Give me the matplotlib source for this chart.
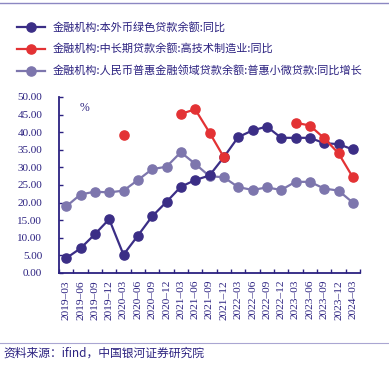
import numpy as np
import matplotlib
matplotlib.use("Agg")
import matplotlib.pyplot as plt
from matplotlib.lines import Line2D

plt.rcParams['font.family'] = ['Liberation Serif', 'Noto Sans CJK SC']

dates = ['2019-03', '2019-06', '2019-09', '2019-12', '2020-03', '2020-06', '2020-09',
         '2020-12', '2021-03', '2021-06', '2021-09', '2021-12', '2022-03', '2022-06',
         '2022-09', '2022-12', '2023-03', '2023-06', '2023-09', '2023-12', '2024-03']

green_loans = [4.2, 7.0, 11.0, 15.3, 5.2, 10.6, 16.1, 20.2, 24.5, 26.4, 27.7, 32.9,
               38.6, 40.5, 41.6, 38.4, 38.4, 38.4, 36.9, 36.6, 35.1]
hitech_loans = [np.nan, np.nan, np.nan, np.nan, 39.3, np.nan, np.nan, np.nan, 45.2, 46.5,
                39.9, 32.9, np.nan, np.nan, np.nan, np.nan, 42.7, 41.9, 38.3, 34.0, 27.2]
micro_loans = [18.9, 22.3, 23.1, 22.9, 23.4, 26.4, 29.5, 30.2, 34.3, 31.0, 27.5, 27.2,
               24.4, 23.6, 24.3, 23.6, 25.9, 25.9, 24.0, 23.4, 20.0]

labels = ['金融机构:本外币绿色贷款余额:同比',
          '金融机构:中长期贷款余额:高技术制造业:同比',
          '金融机构:人民币普惠金融领域贷款余额:普惠小微贷款:同比增长']
colors = ['#3b2e86', '#e33234', '#7d76ad']
navy = '#2b2180'
cjk = ['Noto Sans CJK SC', 'DejaVu Sans']

fig = plt.figure(figsize=(3.89, 3.74), dpi=100)
ax = fig.add_axes([59 / 389, 1 - 273 / 374, 301 / 389, 176 / 374])

x = np.arange(len(dates))
ax.plot(x, micro_loans, color=colors[2], lw=1.6, marker='o', ms=6.6, zorder=2)
ax.plot(x, green_loans, color=colors[0], lw=1.6, marker='o', ms=6.6, zorder=3)
ax.plot(x, hitech_loans, color=colors[1], lw=1.6, marker='o', ms=6.6, zorder=4)

ax.set_xlim(-0.5, len(dates) - 0.5)
ax.set_ylim(0, 50)
ax.set_yticks(np.arange(0, 50.1, 5))
ax.set_yticklabels([f'{v:.2f}' for v in np.arange(0, 50.1, 5)])
ax.set_xticks(x)
ax.set_xticklabels([d.replace('-', '–') for d in dates], rotation=90)
ax.set_xticks(np.arange(-0.5, len(dates)), minor=True)
ax.tick_params(axis='x', which='major', length=0, pad=5, labelsize=8.2, labelcolor=navy)
ax.tick_params(axis='x', which='minor', direction='in', length=3, color=navy, width=1)
ax.tick_params(axis='y', direction='in', length=3, color=navy, width=1, labelsize=8.0,
               labelcolor=navy, pad=12)
for s in ['top', 'right']:
    ax.spines[s].set_visible(False)
for s in ['left', 'bottom']:
    ax.spines[s].set_color(navy)
    ax.spines[s].set_linewidth(1.3)

ax.text(0.07, 0.97, '%', transform=ax.transAxes, color=navy, fontsize=8.5, va='top')

# legend drawn by hand
for i, (lab, c) in enumerate(zip(labels, colors)):
    yy = 1 - (27 + 21.8 * i) / 374
    fig.add_artist(Line2D([17 / 389, 45 / 389], [yy, yy], color=c, lw=1.6,
                          transform=fig.transFigure))
    fig.add_artist(Line2D([31 / 389], [yy], color=c, marker='o', ms=6.6, lw=0,
                          transform=fig.transFigure))
    fig.text(53 / 389, yy, lab, family=cjk, fontsize=8.0, color=navy, va='center')

fig.add_artist(Line2D([0, 1], [1 - 3 / 374, 1 - 3 / 374], color='#8c87c2', lw=1.0,
                      transform=fig.transFigure))
fig.add_artist(Line2D([0, 1], [1 - 343 / 374, 1 - 343 / 374], color='#aaa6d2', lw=0.8,
                      transform=fig.transFigure))
fig.text(3 / 389, 1 - 353 / 374, '资料来源：ifind，中国银河证券研究院', family=cjk,
         fontsize=8.5, color=navy, va='center')

fig.savefig('out.png', dpi=100)
